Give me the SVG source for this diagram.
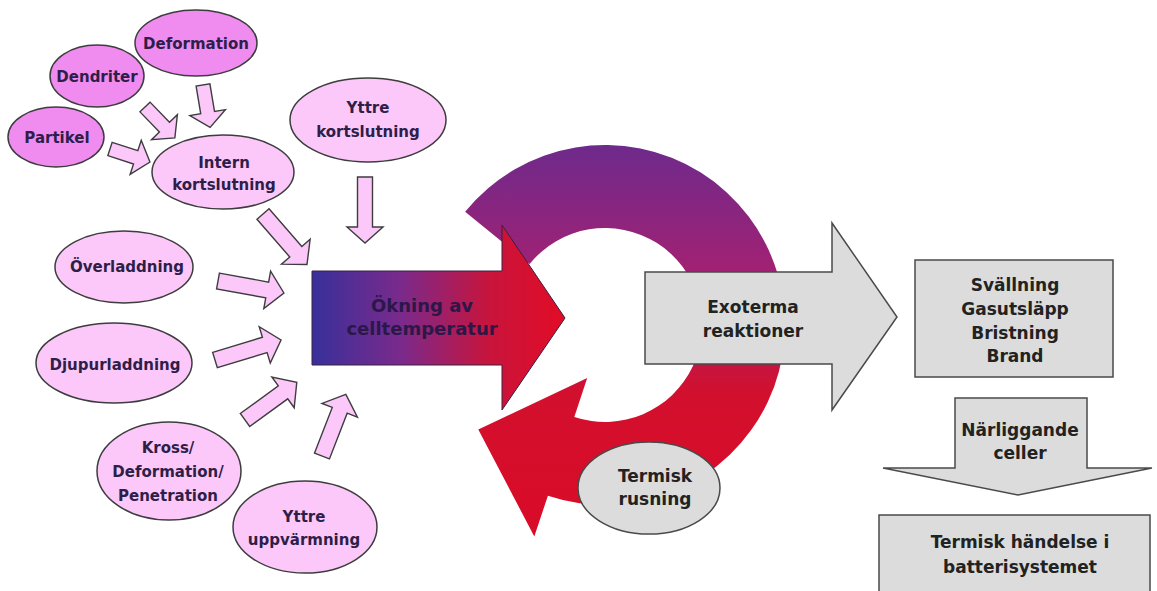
<svg xmlns="http://www.w3.org/2000/svg" width="1157" height="591" viewBox="0 0 1157 591">
<defs>
<style>
.t{font-family:"DejaVu Sans","Liberation Sans",sans-serif;font-weight:bold;text-anchor:middle}
.el{font-size:15px;fill:#2e1e48}
.bx{font-size:17px;fill:#222}
.dk{fill:#f08cf0;stroke:#3d3d3d;stroke-width:1.5}
.lt{fill:#fcc8fa;stroke:#3d3d3d;stroke-width:1.5}
.pa{fill:#fcc8fa;stroke:#3d3d3d;stroke-width:1.4;stroke-linejoin:miter}
.gr{fill:#dcdcdc;stroke:#4a4a4a;stroke-width:1.5}
</style>
<linearGradient id="gMain" gradientUnits="userSpaceOnUse" x1="312" y1="0" x2="565" y2="0">
<stop offset="0" stop-color="#38309a"/>
<stop offset="0.35" stop-color="#7a2a8c"/>
<stop offset="0.7" stop-color="#c8143c"/>
<stop offset="1" stop-color="#e20c26"/>
</linearGradient>
<linearGradient id="gRing" gradientUnits="userSpaceOnUse" x1="0" y1="145" x2="0" y2="500">
<stop offset="0" stop-color="#6e2a8c"/>
<stop offset="0.4" stop-color="#a82070"/>
<stop offset="0.7" stop-color="#d2102e"/>
<stop offset="1" stop-color="#d80c28"/>
</linearGradient>
</defs>
<rect width="1157" height="591" fill="#ffffff"/>

<g id="ring">
<path d="M465.1,211.8 A180,180 0 1 1 547.9,495.7 L534.3,536.4 L478.3,429.6 L587.2,378.1 L574.3,417 A97,97 0 1 0 529.6,264 Z" fill="url(#gRing)"/>
</g>

<g id="connectors">
<path class="pa" transform="translate(203,85) rotate(80.5)" d="M0,-7 H28 V-18 L43,0 L28,18 V7 H0 Z"/>
<path class="pa" transform="translate(145,107) rotate(46)" d="M0,-7 H28 V-18 L43,0 L28,18 V7 H0 Z"/>
<path class="pa" transform="translate(110,149) rotate(18)" d="M0,-7 H27 V-18 L42,0 L27,18 V7 H0 Z"/>
<path class="pa" transform="translate(365,177) rotate(90)" d="M0,-7.5 H50 V-18 L66,0 L50,18 V7.5 H0 Z"/>
<path class="pa" transform="translate(263,214) rotate(49)" d="M0,-8 H50 V-19 L67,0 L50,19 V8 H0 Z"/>
<path class="pa" transform="translate(218,281) rotate(10.3)" d="M0,-8 H50 V-19 L67,0 L50,19 V8 H0 Z"/>
<path class="pa" transform="translate(215,360) rotate(-16.9)" d="M0,-8 H52 V-19 L69,0 L52,19 V8 H0 Z"/>
<path class="pa" transform="translate(245,420) rotate(-36)" d="M0,-8 H47 V-19 L64,0 L47,19 V8 H0 Z"/>
<path class="pa" transform="translate(322,456) rotate(-68.8)" d="M0,-8 H49 V-19 L66,0 L49,19 V8 H0 Z"/>
</g>

<g id="n-deformation"><ellipse class="dk" cx="196" cy="43" rx="61" ry="33"/><text class="t el" x="196" y="49">Deformation</text></g>
<g id="n-dendriter"><ellipse class="dk" cx="97" cy="76" rx="47" ry="31"/><text class="t el" x="97" y="82">Dendriter</text></g>
<g id="n-partikel"><ellipse class="dk" cx="56" cy="137" rx="48" ry="30"/><text class="t el" x="57" y="143">Partikel</text></g>
<g id="n-intern"><ellipse class="lt" cx="223" cy="172" rx="71" ry="37"/><text class="t el" x="224" y="168">Intern</text><text class="t el" x="224" y="190">kortslutning</text></g>
<g id="n-yttrekort"><ellipse class="lt" cx="368" cy="120" rx="78" ry="42"/><text class="t el" x="368" y="113">Yttre</text><text class="t el" x="368" y="137">kortslutning</text></g>
<g id="n-overladdning"><ellipse class="lt" cx="124" cy="267" rx="69" ry="36"/><text class="t el" x="127" y="272">Överladdning</text></g>
<g id="n-djupurladdning"><ellipse class="lt" cx="114" cy="363" rx="78" ry="40"/><text class="t el" x="115" y="370">Djupurladdning</text></g>
<g id="n-kross"><ellipse class="lt" cx="169" cy="471" rx="72" ry="49"/><text class="t el" x="168" y="453">Kross/</text><text class="t el" x="168" y="477">Deformation/</text><text class="t el" x="168" y="501">Penetration</text></g>
<g id="n-yttreuppv"><ellipse class="lt" cx="305" cy="527" rx="72" ry="46"/><text class="t el" x="304" y="522">Yttre</text><text class="t el" x="304" y="545">uppvärmning</text></g>

<g id="n-okning">
<path d="M312,271 H502 V225 L565,318 L502,410 V365 H312 Z" fill="url(#gMain)" stroke="#3a2040" stroke-width="1"/>
<text class="t" x="422" y="312" font-size="18" fill="#2b1848">Ökning av</text>
<text class="t" x="422" y="335" font-size="18" fill="#2b1848">celltemperatur</text>
</g>

<g id="n-exoterma">
<path class="gr" d="M645,272 H832 V223 L897,317 L832,410 V364 H645 Z"/>
<text class="t bx" x="753" y="313" font-size="18">Exoterma</text>
<text class="t bx" x="753" y="337" font-size="18">reaktioner</text>
</g>

<g id="n-termisk-rusning">
<ellipse class="gr" cx="649" cy="488" rx="71" ry="46"/>
<text class="t bx" x="655" y="482">Termisk</text>
<text class="t bx" x="655" y="505">rusning</text>
</g>

<g id="n-svallning">
<rect class="gr" x="915" y="260" width="198" height="117"/>
<text class="t bx" x="1015" y="291">Svällning</text>
<text class="t bx" x="1015" y="315">Gasutsläpp</text>
<text class="t bx" x="1015" y="339">Bristning</text>
<text class="t bx" x="1015" y="362">Brand</text>
</g>

<g id="n-narliggande">
<path class="gr" d="M955,398 H1087 V468 H1152 L1018,495 L883,468 H955 Z"/>
<text class="t bx" x="1020" y="436">Närliggande</text>
<text class="t bx" x="1020" y="459">celler</text>
</g>

<g id="n-termisk-handelse">
<rect class="gr" x="879" y="515" width="271" height="90"/>
<text class="t bx" x="1020" y="548">Termisk händelse i</text>
<text class="t bx" x="1020" y="573">batterisystemet</text>
</g>
</svg>
